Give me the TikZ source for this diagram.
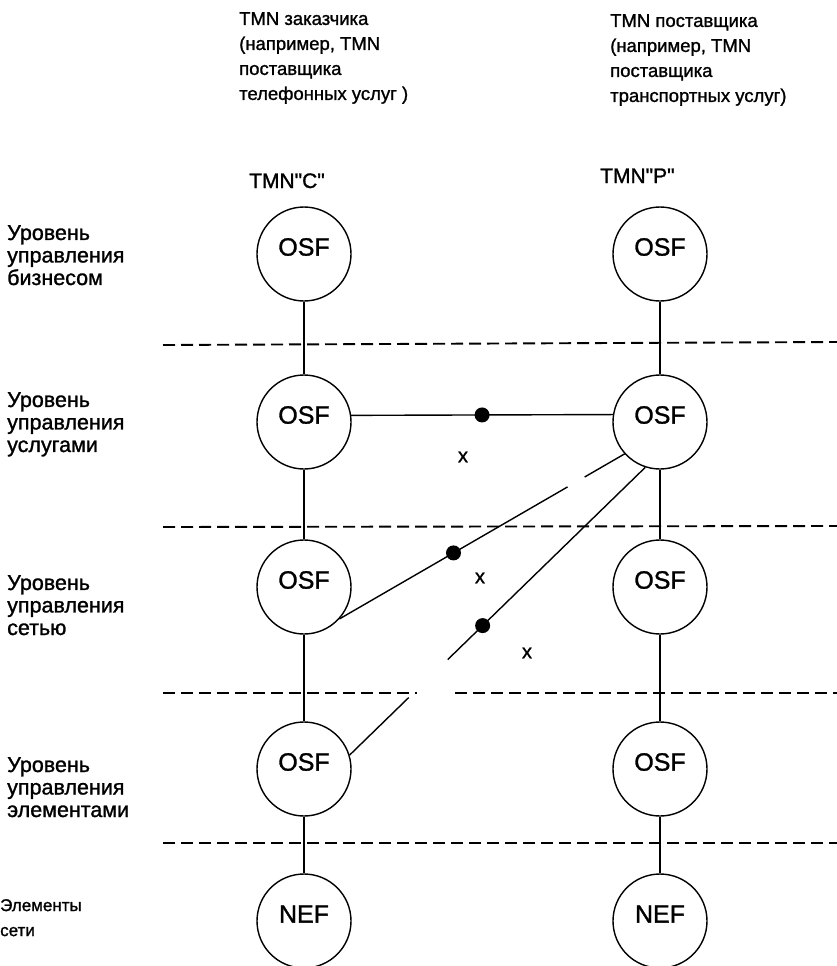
\documentclass[tikz,border=0pt]{standalone}
\usepackage{fontspec}
\setmainfont{Liberation Sans}[FakeBold=1.2]
\newfontfamily\rawfont{Liberation Sans}[FakeBold=1.2]
\usetikzlibrary{calc}
\begin{document}
\begin{tikzpicture}[x=1pt,y=-1pt,
  fn/.style={draw, circle, minimum size=94pt, inner sep=0pt, line width=1.4pt},
  cin/.style={font=\fontsize{25}{25}\selectfont, inner sep=0pt, yshift=7pt},
  conn/.style={line width=1.4pt},
  sepline/.style={line width=1.9pt, dash pattern=on 12pt off 6pt},
  dotmark/.style={circle, fill, inner sep=0pt, minimum size=15pt},
  lvl/.style={anchor=north west, inner sep=0pt, align=left, font=\fontsize{21.5}{22.5}\selectfont},
  toptxt/.style={anchor=north west, inner sep=0pt, align=left, font=\fontsize{18.5}{25}\selectfont},
  tmn/.style={anchor=base west, inner sep=0pt, font=\rawfont\fontsize{21}{21}\selectfont},
  xmark/.style={inner sep=0pt, font=\fontsize{20}{20}\selectfont}
]
\useasboundingbox (0,0) rectangle (837,966);

% headings
\node[toptxt] (hc) at (239,12) {TMN заказчика\\(например, TMN\\поставщика\\телефонных услуг )};
\node[toptxt] (hp) at (610,14) {TMN поставщика\\(например, TMN\\поставщика\\транспортных услуг)};
\node[tmn] (tc) at (249,188) {TMN"C"};
\node[tmn] (tp) at (600,183) {TMN"P"};

% level labels
\node[lvl] (lv1) at (7,225) {Уровень\\управления\\бизнесом};
\node[lvl] (lv2) at (7,392) {Уровень\\управления\\услугами};
\node[lvl] (lv3) at (7,575) {Уровень\\управления\\сетью};
\node[lvl] (lv4) at (7,757) {Уровень\\управления\\элементами};
\node[lvl, font=\fontsize{17}{25}\selectfont] (lv5) at (0,899) {Элементы\\сети};

% separators
\draw[sepline] (163,345) -- (837,342);
\draw[sepline] (163,527) -- (837,526);
\draw[sepline] (163,693) -- (417,693);
\draw[sepline] (455,693) -- (837,693);
\draw[sepline] (163,843) -- (837,843);

% function blocks
\node[fn, label={[cin]center:OSF}] (L1) at (304,254) {};
\node[fn, label={[cin]center:OSF}] (L2) at (304,422) {};
\node[fn, label={[cin]center:OSF}] (L3) at (304,587) {};
\node[fn, label={[cin]center:OSF}] (L4) at (304,769) {};
\node[fn, label={[cin]center:NEF}] (L5) at (304,921) {};
\node[fn, label={[cin]center:OSF}] (R1) at (660,254) {};
\node[fn, label={[cin]center:OSF}] (R2) at (660,422) {};
\node[fn, label={[cin]center:OSF}] (R3) at (660,587) {};
\node[fn, label={[cin]center:OSF}] (R4) at (660,769) {};
\node[fn, label={[cin]center:NEF}] (R5) at (660,921) {};

% vertical links
\draw[conn] (L1) -- (L2);
\draw[conn] (L2) -- (L3);
\draw[conn] (L3) -- (L4);
\draw[conn] (L4) -- (L5);
\draw[conn] (R1) -- (R2);
\draw[conn] (R2) -- (R3);
\draw[conn] (R3) -- (R4);
\draw[conn] (R4) -- (R5);

% horizontal link
\draw[conn] (L2.8.6) -- (R2.171.4);
\node[dotmark] (d1) at ($(L2.8.6)!0.5!(R2.171.4)$) {};

% diagonal link 1
\coordinate (a1) at (R2.222);
\coordinate (b1) at (L3.318);
\draw[conn] (a1) -- ($(a1)!0.14!(b1)$) ($(a1)!0.20!(b1)$) -- (b1);
\node[dotmark] (d2) at ($(a1)!0.60!(b1)$) {};

% diagonal link 2 (interrupted)
\coordinate (a2) at (R2.252);
\coordinate (b2) at (L4.17);
\draw[conn] (a2) -- ($(a2)!0.668!(b2)$) ($(a2)!0.80!(b2)$) -- (b2);
\node[dotmark] (d3) at ($(a2)!0.55!(b2)$) {};

% x marks
\node[xmark] (x1) at (463,457) {x};
\node[xmark] (x2) at (480,578) {x};
\node[xmark] (x3) at (527,653) {x};
\end{tikzpicture}
\end{document}
